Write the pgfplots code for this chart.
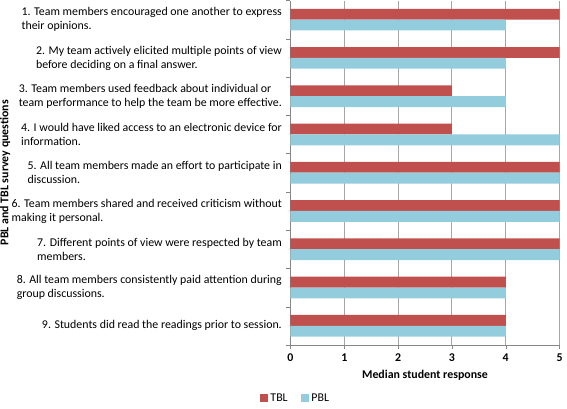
\documentclass[border=0pt]{standalone}
\usepackage{pgfplots}
\pgfplotsset{compat=1.18}
\usepackage{fontspec}
\setmainfont{Carlito}
\definecolor{tbl}{HTML}{C0504D}
\definecolor{pbl}{HTML}{93CDDD}
\definecolor{gridc}{HTML}{A6A6A6}
\definecolor{axc}{HTML}{868686}
\begin{document}
\begin{tikzpicture}
\begin{axis}[
  scale only axis,
  width=204pt, height=261pt,
  xbar, bar width=8.2pt,
  xmin=0, xmax=5,
  ymin=0.5, ymax=9.5,
  y dir=reverse,
  xtick={0,1,2,3,4,5},
  xmajorgrids, grid style={gridc, line width=0.8pt},
  ytick={1,...,9},
  major y tick style={draw=none},
  minor ytick={0.5,1.5,...,9.5},
  minor y tick style={axc},
  minor tick length=3pt,
  major x tick style={axc},
  tick align=outside,
  major tick length=3pt,
  axis x line*=bottom, axis y line*=left,
  axis line style={axc},
  x axis line style={-},
  y axis line style={-},
  /pgf/number format/assume math mode=true,
  xticklabel style={font=\bfseries\fontsize{9}{10.5}\selectfont},
  yticklabel style={align=left, font=\fontsize{9}{10.6}\selectfont},
  yticklabels={
    {1. Team members encouraged one another to express\\their opinions.},
    {2. My team actively elicited multiple points of view\\before deciding on a final answer.},
    {3. Team members used feedback about individual or\\team performance to help the team be more effective.},
    {4. I would have liked access to an electronic device for\\information.},
    {5. All team members made an effort to participate in\\discussion.},
    {6. Team members shared and received criticism without\\making it personal.},
    {7. Different points of view were respected by team\\members.},
    {8. All team members consistently paid attention during\\group discussions.},
    {9. Students did read the readings prior to session.}
  },
  xlabel={\textbf{Median student response}},
  ylabel={\textbf{PBL and TBL survey questions}},
  label style={font=\fontsize{9}{10}\selectfont},
  ylabel style={at={(axis description cs:-1.08,0.5)}, anchor=north, inner sep=0pt},
  legend style={draw=none, at={(0.02,-0.155)}, anchor=center, legend columns=2,
    font=\fontsize{9}{10}\selectfont, /tikz/every even column/.append style={column sep=8pt}},
  legend image code/.code={\fill[#1] (0pt,-3pt) rectangle (6pt,3pt);},
]
\addplot[fill=tbl, draw=none, bar shift=4.1pt] coordinates {(5,1) (5,2) (3,3) (3,4) (5,5) (5,6) (5,7) (4,8) (4,9)};
\addplot[fill=pbl, draw=none, bar shift=-4.1pt] coordinates {(4,1) (4,2) (4,3) (5,4) (5,5) (5,6) (5,7) (4,8) (4,9)};
\legend{TBL, PBL}
\end{axis}
\end{tikzpicture}
\end{document}
